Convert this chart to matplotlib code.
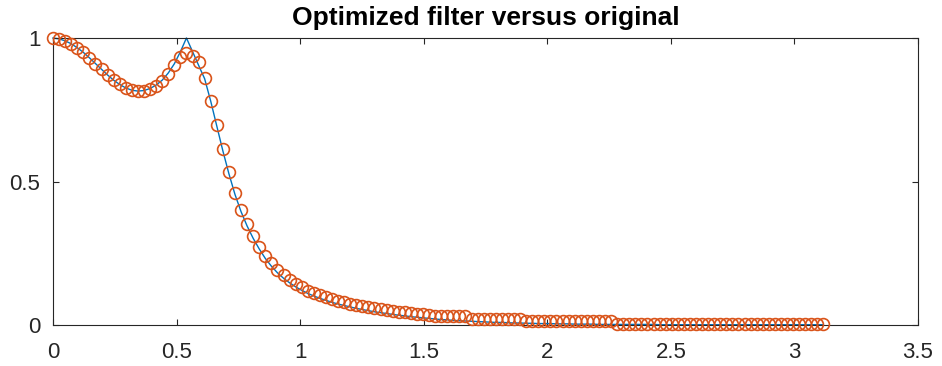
import numpy as np
import matplotlib
matplotlib.use("Agg")
import matplotlib.pyplot as plt

# frequency grid of the response (128 bins from 0 up to pi)
n_bins = 128
freq = np.pi * np.arange(n_bins) / n_bins

# magnitude of the original filter (blue line)
orig_mag = [
    1.000, 0.997, 0.990, 0.980, 0.966, 0.950, 0.931, 0.911, 0.891, 0.871,
    0.853, 0.838, 0.826, 0.818, 0.815, 0.817, 0.824, 0.836, 0.853, 0.878,
    0.910, 0.952, 1.000, 0.953, 0.905, 0.858, 0.780, 0.693, 0.607, 0.527,
    0.455, 0.395, 0.345, 0.302, 0.265, 0.232, 0.205, 0.182, 0.163, 0.147,
    0.133, 0.121, 0.110, 0.101, 0.093, 0.086, 0.079, 0.073, 0.068, 0.063,
    0.058, 0.054, 0.050, 0.046, 0.043, 0.040, 0.037, 0.034, 0.032, 0.029,
    0.027, 0.025, 0.023, 0.021, 0.019, 0.018, 0.016, 0.015, 0.014, 0.013,
    0.012, 0.011, 0.010, 0.009, 0.009, 0.008, 0.007, 0.007, 0.006, 0.006,
    0.005, 0.005, 0.005, 0.004, 0.004, 0.004, 0.003, 0.003, 0.003, 0.003,
    0.002, 0.002, 0.002, 0.002, 0.002, 0.002, 0.002, 0.002, 0.002, 0.002,
    0.001, 0.001, 0.001, 0.001, 0.001, 0.001, 0.001, 0.001, 0.001, 0.001,
    0.001, 0.001, 0.001, 0.001, 0.001, 0.001, 0.001, 0.001, 0.001, 0.001,
    0.001, 0.001, 0.001, 0.001, 0.001, 0.001, 0.001, 0.001,
]

# magnitude of the optimized filter (orange circles)
opt_mag = [
    1.000, 0.997, 0.990, 0.980, 0.966, 0.950, 0.931, 0.911, 0.891, 0.871,
    0.853, 0.838, 0.826, 0.818, 0.814, 0.815, 0.821, 0.832, 0.850, 0.874,
    0.905, 0.935, 0.949, 0.938, 0.915, 0.862, 0.782, 0.697, 0.612, 0.532,
    0.461, 0.401, 0.352, 0.310, 0.273, 0.242, 0.215, 0.192, 0.173, 0.157,
    0.143, 0.131, 0.120, 0.111, 0.103, 0.096, 0.090, 0.084, 0.079, 0.074,
    0.069, 0.065, 0.061, 0.058, 0.055, 0.052, 0.049, 0.047, 0.044, 0.042,
    0.040, 0.038, 0.036, 0.031, 0.031, 0.031, 0.031, 0.031, 0.031, 0.022,
    0.022, 0.022, 0.022, 0.022, 0.022, 0.022, 0.022, 0.022, 0.015, 0.015,
    0.015, 0.015, 0.015, 0.015, 0.015, 0.015, 0.015, 0.015, 0.015, 0.015,
    0.015, 0.015, 0.015, 0.004, 0.004, 0.004, 0.004, 0.004, 0.004, 0.004,
    0.004, 0.004, 0.004, 0.004, 0.004, 0.004, 0.004, 0.004, 0.004, 0.004,
    0.004, 0.004, 0.004, 0.004, 0.004, 0.004, 0.003, 0.003, 0.003, 0.003,
    0.003, 0.003, 0.003, 0.003, 0.003, 0.003, 0.003, 0.003,
]

x_ticks = [0, 0.5, 1, 1.5, 2, 2.5, 3, 3.5]
x_tick_labels = ["0", "0.5", "1", "1.5", "2", "2.5", "3", "3.5"]
y_ticks = [0, 0.5, 1]
y_tick_labels = ["0", "0.5", "1"]

plt.rcParams['font.family'] = ['Liberation Sans', 'DejaVu Sans']

fig = plt.figure(figsize=(9.42, 3.66), dpi=100)
ax = fig.add_axes([53 / 942, 41 / 366, 865 / 942, 287 / 366])

blue = (0.0, 0.447, 0.741)
orange = (0.85, 0.325, 0.098)
axis_gray = (0.15, 0.15, 0.15)

ax.plot(freq, orig_mag, color=blue, linewidth=1.0, clip_on=False, zorder=2)
ax.plot(freq, opt_mag, linestyle='none', marker='o', markersize=8.5,
        markerfacecolor='none', markeredgecolor=orange, markeredgewidth=1.2,
        clip_on=False, zorder=3)

ax.set_xlim(0, 3.5)
ax.set_ylim(0, 1)
ax.set_xticks(x_ticks)
ax.set_xticklabels(x_tick_labels)
ax.set_yticks(y_ticks)
ax.set_yticklabels(y_tick_labels)

# matlab-like box with inward ticks on all sides
ax.tick_params(direction='in', length=4, width=0.8, colors=axis_gray,
               labelsize=16, top=True, right=True)
ax.tick_params(axis='x', pad=12)
ax.tick_params(axis='y', pad=9)
for spine in ax.spines.values():
    spine.set_color(axis_gray)
    spine.set_linewidth(0.8)

ax.set_title("Optimized filter versus original", fontsize=19,
             fontweight='bold', color='black', pad=9)

plt.savefig("out.png", dpi=100)
